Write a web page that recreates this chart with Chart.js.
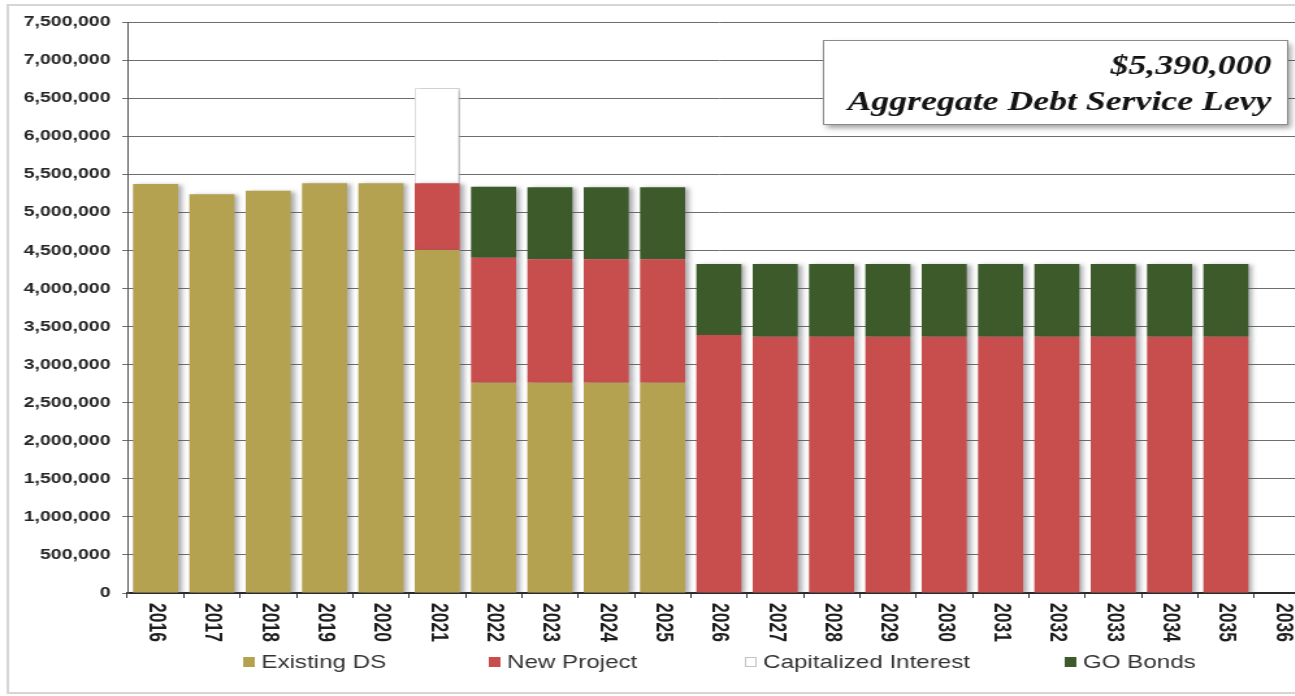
<!DOCTYPE html>
<html>
<head>
<meta charset="utf-8">
<title>Aggregate Debt Service Levy</title>
<script src="https://cdn.jsdelivr.net/npm/chart.js@4/dist/chart.umd.min.js"></script>
<style>
  html, body { margin: 0; padding: 0; background: #ffffff; overflow: hidden; width: 1295px; height: 696px; }
  #wrap { position: absolute; left: 0; top: 0; width: 1008px; height: 696px; transform: scaleX(1.3); transform-origin: 0 0; }
  canvas { display: block; }
</style>
</head>
<body>
<div id="wrap"><canvas id="chart" width="1008" height="696"></canvas></div>
<script>
// Levy years
const categories = ['2016','2017','2018','2019','2020','2021','2022','2023','2024','2025',
                    '2026','2027','2028','2029','2030','2031','2032','2033','2034','2035','2036'];

// Annual debt service by source ($)
const existingDS = [5372000, 5237000, 5285000, 5382000, 5383000, 4505000,
                    2762000, 2762000, 2762000, 2762000,
                    null, null, null, null, null, null, null, null, null, null, null];
const newProject = [null, null, null, null, null, 878000,
                    1642000, 1622000, 1622000, 1622000,
                    3389000, 3367000, 3367000, 3367000, 3367000, 3367000, 3367000, 3367000, 3367000, 3367000, null];
const capitalizedInterest = [null, null, null, null, null, 1250000,
                    null, null, null, null,
                    null, null, null, null, null, null, null, null, null, null, null];
const goBonds    = [null, null, null, null, null, null,
                    933000, 946000, 946000, 946000,
                    933000, 955000, 955000, 955000, 955000, 955000, 955000, 955000, 955000, 955000, null];

// Axis settings
const yMax = 7500000;
const yStep = 500000;

// Callout text
const levyAmount = '$5,390,000';
const levyCaption = 'Aggregate Debt Service Levy';

const COLORS = {
  existing: '#b5a250',
  project: '#c84e4e',
  capInt: '#ffffff',
  go: '#3d5a2a'
};

// Soft drop shadow behind the bars
const barShadow = {
  id: 'barShadow',
  beforeDatasetsDraw(chart) {
    const ctx = chart.ctx;
    ctx.save();
    ctx.shadowColor = 'rgba(90,90,100,0.5)';
    ctx.shadowOffsetX = 3;
    ctx.shadowOffsetY = 1;
    ctx.shadowBlur = 4;
  },
  afterDatasetsDraw(chart) {
    chart.ctx.restore();
  }
};

// Outer frame
const frame = {
  id: 'frame',
  beforeDraw(chart) {
    const ctx = chart.ctx;
    ctx.save();
    ctx.strokeStyle = '#d6d6d6';
    ctx.lineWidth = 2;
    ctx.strokeRect(6, 5, 1100, 688);
    ctx.restore();
  }
};

// Year labels reading top to bottom, callout box and legend
const decorations = {
  id: 'decorations',
  afterDraw(chart) {
    const ctx = chart.ctx;
    const xs = chart.scales.x;

    // year labels
    ctx.save();
    ctx.fillStyle = '#1e1e1e';
    ctx.font = 'bold 17.5px "Liberation Sans", Arial, sans-serif';
    ctx.textAlign = 'left';
    ctx.textBaseline = 'middle';
    categories.forEach((lab, i) => {
      const x = xs.getPixelForValue(i);
      ctx.save();
      ctx.translate(x, 603);
      ctx.rotate(Math.PI / 2);
      ctx.fillText(lab, 0, 0);
      ctx.restore();
    });
    ctx.restore();

    // callout box
    ctx.save();
    const bx = 633, by = 40, bw = 357, bh = 84;
    ctx.shadowColor = 'rgba(70,70,80,0.5)';
    ctx.shadowOffsetX = 3;
    ctx.shadowOffsetY = 4;
    ctx.shadowBlur = 5;
    ctx.fillStyle = '#ffffff';
    ctx.fillRect(bx, by, bw, bh);
    ctx.shadowColor = 'rgba(0,0,0,0)';
    ctx.strokeStyle = '#8a8a8a';
    ctx.lineWidth = 1;
    ctx.strokeRect(bx + 0.5, by + 0.5, bw, bh);
    ctx.fillStyle = '#141414';
    ctx.font = 'italic bold 27.5px "Liberation Serif", "Times New Roman", serif';
    ctx.textAlign = 'right';
    ctx.textBaseline = 'alphabetic';
    ctx.fillText(levyAmount, 978, 74);
    ctx.fillText(levyCaption, 978, 110);
    ctx.restore();

    // legend
    ctx.save();
    const legendX = [187, 376, 573, 819];
    const ly = 662;
    ctx.font = '18.6px "Liberation Sans", Arial, sans-serif';
    ctx.textBaseline = 'middle';
    ctx.textAlign = 'left';
    chart.data.datasets.forEach((ds, i) => {
      const x = legendX[i];
      ctx.fillStyle = ds.backgroundColor;
      ctx.fillRect(x, ly - 5, 9, 10);
      if (ds.backgroundColor === '#ffffff') {
        ctx.strokeStyle = '#c4c4c4';
        ctx.lineWidth = 1;
        ctx.strokeRect(x + 0.5, ly - 4.5, 8, 9);
      }
      ctx.fillStyle = '#333333';
      ctx.fillText(ds.label, x + 14, ly + 1);
    });
    ctx.restore();
  }
};

new Chart(document.getElementById('chart'), {
  type: 'bar',
  data: {
    labels: categories,
    datasets: [
      { label: 'Existing DS', data: existingDS, backgroundColor: COLORS.existing, borderWidth: 0 },
      { label: 'New Project', data: newProject, backgroundColor: COLORS.project, borderWidth: 0 },
      { label: 'Capitalized Interest', data: capitalizedInterest, backgroundColor: COLORS.capInt,
        borderColor: '#e2e2e2', borderWidth: 1 },
      { label: 'GO Bonds', data: goBonds, backgroundColor: COLORS.go, borderWidth: 0 }
    ]
  },
  options: {
    responsive: false,
    animation: false,
    devicePixelRatio: 1,
    layout: { padding: { top: 22, left: 0, right: 0, bottom: 0 } },
    datasets: { bar: { categoryPercentage: 0.8, barPercentage: 1.0 } },
    plugins: {
      legend: { display: false },
      tooltip: { enabled: false },
      title: { display: false }
    },
    scales: {
      x: {
        stacked: true,
        grid: { display: true, drawOnChartArea: false, drawTicks: true, tickLength: 5, color: '#333333', offset: true },
        border: { display: true, color: '#2a2a2a', width: 2 },
        ticks: { display: false },
        afterFit(scale) { scale.height = 103; }
      },
      y: {
        stacked: true,
        min: 0,
        max: yMax,
        ticks: {
          stepSize: yStep,
          padding: 9,
          color: '#262626',
          font: { family: '"Liberation Sans", Arial, sans-serif', size: 15, weight: 'bold' },
          callback: (v) => Number(v).toLocaleString('en-US')
        },
        grid: { color: '#6e6e6e', lineWidth: 1, drawTicks: true, tickLength: 4 },
        border: { display: true, color: '#555555', width: 1 },
        afterFit(scale) { scale.width = 98; }
      }
    }
  },
  plugins: [frame, barShadow, decorations]
});
</script>
</body>
</html>
